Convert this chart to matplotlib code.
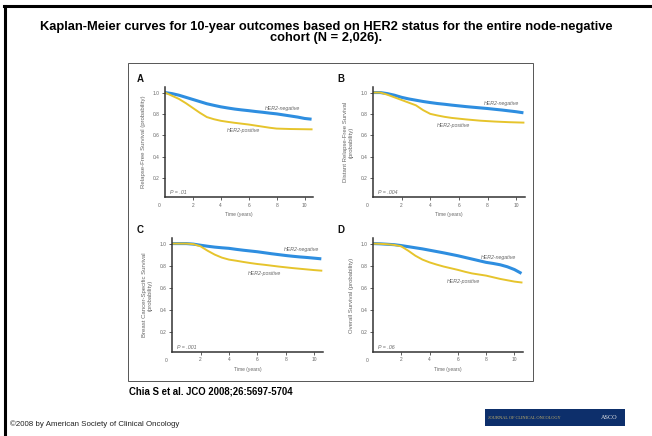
import matplotlib.pyplot as plt
from matplotlib.patches import Rectangle
from matplotlib.lines import Line2D

plt.rcParams['font.family'] = ['Liberation Sans', 'DejaVu Sans']

title = 'Kaplan-Meier curves for 10-year outcomes based on HER2 status for the entire node-negative\ncohort (N = 2,026).'
citation = 'Chia S et al. JCO 2008;26:5697-5704'
copyright_text = '\u00a92008 by American Society of Clinical Oncology'

# time points (years) the curves were read at
years = [0, 0.5, 1, 1.5, 2, 2.5, 3, 3.5, 4, 4.5, 5, 5.5, 6, 6.5, 7, 7.5, 8, 8.5, 9, 9.5, 10, 10.5]

panel_letters = ['A', 'B', 'C', 'D']
ylabels = ['Relapse-Free Survival (probability)',
           'Distant Relapse-Free Survival\n(probability)',
           'Breast Cancer-Specific Survival\n(probability)',
           'Overall Survival (probability)']
p_values = ['P = .01', 'P = .004', 'P = .001', 'P = .06']

neg_a = [1.0, 0.99, 0.975, 0.955, 0.935, 0.915, 0.895, 0.88, 0.866, 0.855, 0.845,
         0.837, 0.83, 0.822, 0.815, 0.807, 0.80, 0.79, 0.78, 0.77, 0.757, 0.75]
pos_a = [1.0, 0.97, 0.94, 0.9, 0.855, 0.81, 0.77, 0.75, 0.735, 0.725, 0.716,
         0.708, 0.70, 0.69, 0.68, 0.67, 0.662, 0.66, 0.658, 0.657, 0.656, 0.655]
neg_b = [1.0, 1.0, 0.99, 0.975, 0.955, 0.94, 0.928, 0.916, 0.906, 0.897, 0.89,
         0.882, 0.875, 0.868, 0.862, 0.856, 0.85, 0.843, 0.836, 0.828, 0.82, 0.81]
pos_b = [1.0, 1.0, 0.98, 0.955, 0.93, 0.905, 0.88, 0.835, 0.80, 0.785, 0.772,
         0.762, 0.755, 0.748, 0.742, 0.736, 0.732, 0.728, 0.725, 0.722, 0.72, 0.718]
neg_c = [1.0, 1.0, 1.0, 0.995, 0.985, 0.976, 0.968, 0.962, 0.957, 0.948, 0.94,
         0.933, 0.926, 0.917, 0.908, 0.9, 0.892, 0.885, 0.879, 0.874, 0.868, 0.862]
pos_c = [1.0, 1.0, 1.0, 0.995, 0.975, 0.935, 0.9, 0.873, 0.855, 0.845, 0.834,
         0.824, 0.815, 0.808, 0.80, 0.792, 0.785, 0.778, 0.772, 0.766, 0.76, 0.755]
neg_d = [1.0, 0.998, 0.994, 0.99, 0.982, 0.972, 0.962, 0.952, 0.94, 0.928, 0.916,
         0.903, 0.89, 0.875, 0.86, 0.845, 0.83, 0.82, 0.808, 0.79, 0.765, 0.73]
pos_d = [1.0, 0.998, 0.994, 0.988, 0.975, 0.935, 0.89, 0.855, 0.83, 0.81, 0.792,
         0.777, 0.762, 0.745, 0.73, 0.72, 0.71, 0.695, 0.68, 0.668, 0.656, 0.648]
negatives = [neg_a, neg_b, neg_c, neg_d]
positives = [pos_a, pos_b, pos_c, pos_d]

# label anchor points (years, probability) for the in-plot curve labels
neg_label_pos = [(8.4, 0.85), (9.0, 0.897), (9.1, 0.947), (8.85, 0.87)]
pos_label_pos = [(5.6, 0.64), (5.6, 0.69), (6.5, 0.73), (6.4, 0.656)]

blue = '#2e8ee0'
yellow = '#e6c42c'
grey_txt = '#666666'

fig = plt.figure(figsize=(6.52, 4.36), dpi=100)

# slide frame: top and left black rules
fig.add_artist(Line2D([4 / 652, 1], [1 - 6 / 436, 1 - 6 / 436], color='black', lw=2.2))
fig.add_artist(Line2D([5 / 652, 5 / 652], [0, 1 - 6 / 436], color='black', lw=2.2))

fig.text(0.5, 1 - 32.5 / 436, title, ha='center', va='center', fontsize=9.3,
         fontweight='bold', linespacing=0.9)

# image box around the four panels
fig.add_artist(Rectangle((128 / 652, 1 - 381 / 436), 405 / 652, 318 / 436,
                         fill=False, edgecolor='#555555', lw=0.7))

axes_boxes = [[0.253, 0.548, 0.227, 0.252],
              [0.572, 0.548, 0.233, 0.252],
              [0.264, 0.193, 0.231, 0.261],
              [0.572, 0.193, 0.230, 0.261]]
letter_xy = [(137, 79), (337, 79), (137, 230), (337, 230)]

for i in range(4):
    ax = fig.add_axes(axes_boxes[i])
    ax.plot(years, negatives[i], color=blue, lw=2.2, solid_capstyle='butt')
    ax.plot(years, positives[i], color=yellow, lw=1.4)
    ax.set_xlim(0, 10.6)
    ax.set_ylim(0.02, 1.05)
    ax.set_xticks([2, 4, 6, 8, 10])
    ax.set_yticks([0.2, 0.4, 0.6, 0.8, 1.0])
    ax.set_yticklabels(['0.2', '0.4', '0.6', '0.8', '1.0'])
    ax.tick_params(labelsize=3.5, labelcolor=grey_txt, length=2, width=0.6,
                   color='#444444', pad=2)
    for side in ['top', 'right']:
        ax.spines[side].set_visible(False)
    for side in ['left', 'bottom']:
        ax.spines[side].set_linewidth(1.1)
        ax.spines[side].set_color('#333333')
    ax.text(-0.04, -0.05, '0', transform=ax.transAxes, ha='center', va='top',
            fontsize=3.5, color=grey_txt)
    ax.set_xlabel('Time (years)', fontsize=3.5, color=grey_txt, labelpad=3)
    ax.set_ylabel(ylabels[i], fontsize=4.3, color=grey_txt, labelpad=5,
                  linespacing=1.1)
    nx, ny = neg_label_pos[i]
    ax.text(nx, ny, 'HER2-negative', fontsize=3.8, style='italic', color=grey_txt,
            ha='center', va='center')
    px, py = pos_label_pos[i]
    ax.text(px, py, 'HER2-positive', fontsize=3.8, style='italic', color=grey_txt,
            ha='center', va='center')
    ax.text(0.35, 0.06, p_values[i], fontsize=3.8, style='italic', color=grey_txt,
            ha='left', va='center')
    lx, ly = letter_xy[i]
    fig.text(lx / 652, 1 - ly / 436, panel_letters[i], fontsize=7,
             fontweight='bold', ha='left', va='center', color='#111111')

fig.text(129 / 652, 1 - 391 / 436, citation, fontsize=6.9, fontweight='bold',
         ha='left', va='center')
fig.text(10 / 652, 1 - 424 / 436, copyright_text, fontsize=5.7, ha='left',
         va='center', color='#222222')

# journal logo bar
fig.add_artist(Rectangle((485 / 652, 1 - 426 / 436), 140 / 652, 17 / 436,
                         facecolor='#0d2f6b', edgecolor='none'))
fig.text(488 / 652, 1 - 417.5 / 436, 'JOURNAL OF CLINICAL ONCOLOGY', fontsize=3.2,
         color='#c9b46a', ha='left', va='center', family='Liberation Serif')
fig.text(618 / 652, 1 - 417.5 / 436, 'ASCO', fontsize=4.5, color='#e8e8e8',
         ha='right', va='center', family='Liberation Serif')

fig.savefig('out.png', dpi=100)
